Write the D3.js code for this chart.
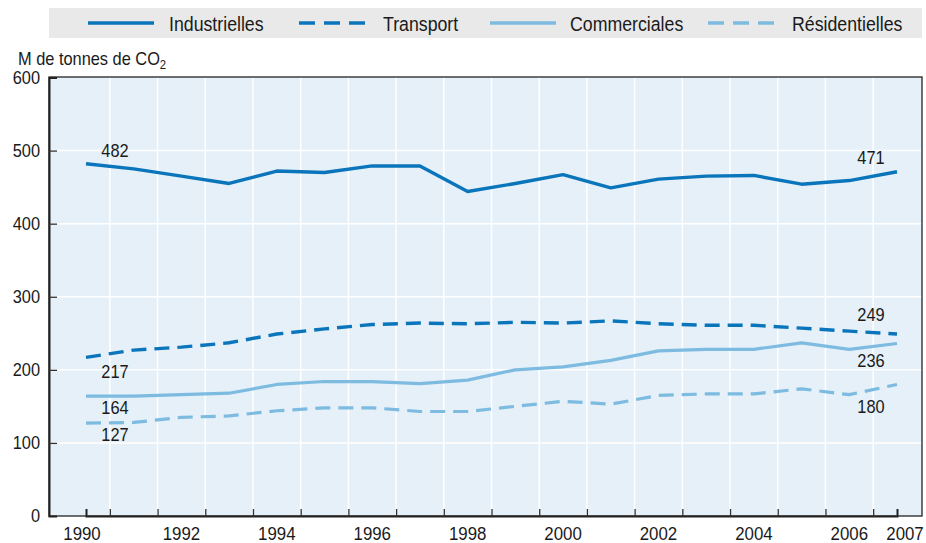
<!DOCTYPE html>
<html>
<head>
<meta charset="utf-8">
<script src="https://cdn.jsdelivr.net/npm/d3@7"></script>
<style>
  html, body { margin: 0; padding: 0; background: #fff; }
  svg text { font-family: "Liberation Sans", Arial, sans-serif; fill: #1a1a1a; }
</style>
</head>
<body>
<svg id="chart" width="926" height="543"></svg>
<script>
const years = [1990,1991,1992,1993,1994,1995,1996,1997,1998,1999,2000,2001,2002,2003,2004,2005,2006,2007];
const industrielles  = [482,475,465,455,472,470,479,479,444,455,467,449,461,465,466,454,459,471];
const transport      = [217,227,231,237,249,256,262,264,263,265,264,267,263,261,261,257,253,249];
const commerciales   = [164,164,166,168,180,184,184,181,186,200,204,213,226,228,228,237,228,236];
const residentielles = [127,128,135,137,144,148,148,143,143,150,157,153,165,167,167,174,166,180];
const seriesNames = ["Industrielles","Transport","Commerciales","Résidentielles"];
const yTicks = [0,100,200,300,400,500,600];
const xTickLabels = ["1990","1992","1994","1996","1998","2000","2002","2004","2006","2007"];
const yTitle = "M de tonnes de CO";

(function () {
const SX = 0.91; // condensed look
const dark = "#0a75bb", light = "#7dbbe1";
const styles = [
  {color: dark,  dash: null,   width: 3.4},
  {color: dark,  dash: "15,8", width: 3.4},
  {color: light, dash: null,   width: 3.2},
  {color: light, dash: "15,8", width: 3.2}
];
const seriesData = [industrielles, transport, commerciales, residentielles];
const labelOffsets = [
  [29, -7, -26, -8],
  [29, 21, -26, -13],
  [29, 18, -26, 23],
  [29, 18, -26, 29]
];

const svg = d3.select("#chart");
function addText(parent, tx, ty, str, size, anchor) {
  return parent.append("text")
    .attr("transform", `translate(${tx},${ty}) scale(${SX},1)`)
    .attr("text-anchor", anchor || "start")
    .attr("font-size", size).text(str);
}

const pl = 49, pr = 922, pt = 77, pb = 516;
const x = d3.scaleLinear().domain([1990, 2007]).range([86, 897]);
const y = d3.scaleLinear().domain([0, 600]).range([pb, 77.5]);

// legend
svg.append("rect").attr("x", pl).attr("y", 8).attr("width", pr - pl).attr("height", 30).attr("fill", "#e9e9e9");
const legendX = [88, 299, 490, 708];
const legendTextX = [169, 383, 570, 792];
seriesNames.forEach((n, i) => {
  svg.append("line").attr("x1", legendX[i]).attr("x2", legendX[i] + 66).attr("y1", 23).attr("y2", 23)
    .attr("stroke", styles[i].color).attr("stroke-width", 3.4)
    .attr("stroke-dasharray", styles[i].dash ? "16,9" : null);
  addText(svg, legendTextX[i], 30.5, n, 19.5);
});

// y title
const t = addText(svg, 18, 64.5, yTitle, 18);
t.append("tspan").attr("font-size", 12.5).attr("dy", 4).text("2");

// plot background
svg.append("rect").attr("x", pl).attr("y", pt).attr("width", pr - pl).attr("height", pb - pt).attr("fill", "#e5f0f8");

// grid
const g = svg.append("g");
yTicks.slice(1, -1).forEach(v => {
  g.append("line").attr("x1", pl).attr("x2", pr).attr("y1", y(v)).attr("y2", y(v)).attr("stroke", "#fff").attr("stroke-width", 1.5);
});
const gridYears = years.slice(0, -1).map(d => d + 0.5);
gridYears.forEach(v => {
  g.append("line").attr("x1", x(v)).attr("x2", x(v)).attr("y1", pt).attr("y2", pb).attr("stroke", "#fff").attr("stroke-width", 1.5);
});

// frame
svg.append("rect").attr("x", pl).attr("y", pt).attr("width", pr - pl).attr("height", pb - pt)
  .attr("fill", "none").attr("stroke", "#222").attr("stroke-width", 1.3);

// y axis
const yAxis = d3.axisLeft(y).tickValues(yTicks).tickSize(-8).tickPadding(9).tickFormat(d3.format("d"));
const ya = svg.append("g").attr("transform", `translate(${pl},0)`).call(yAxis);
ya.select(".domain").attr("stroke", "#222").attr("stroke-width", 2);
ya.selectAll(".tick line").attr("stroke", "#333").attr("stroke-width", 1.3);
ya.selectAll(".tick text")
  .attr("x", -9 / SX).attr("transform", `scale(${SX},1)`)
  .attr("font-size", 18).attr("fill", "#1a1a1a")
  .style("font-family", '"Liberation Sans", Arial, sans-serif');
ya.selectAll(".tick").filter(d => d === 0 || d === 600).select("line").remove();

// x axis ticks at grid positions
const xa = svg.append("g").attr("transform", `translate(0,${pb})`)
  .call(d3.axisBottom(x).tickValues(gridYears).tickSize(-7).tickFormat(""));
xa.select(".domain").attr("stroke", "#222").attr("stroke-width", 2);
xa.selectAll(".tick line").attr("stroke", "#333").attr("stroke-width", 1.3);

// x labels
const xNudge = {"1990": -4, "2007": 8};
xTickLabels.forEach(l => {
  addText(svg, x(+l) + (xNudge[l] || 0), 539.5, l, 18.5, "middle");
});

// lines
const line = d3.line().x((d, i) => x(years[i])).y(d => y(d));
seriesData.forEach((s, i) => {
  svg.append("path").datum(s).attr("d", line).attr("fill", "none")
    .attr("stroke", styles[i].color).attr("stroke-width", styles[i].width)
    .attr("stroke-dasharray", styles[i].dash).attr("stroke-linejoin", "round");
});

// value labels
seriesData.forEach((s, i) => {
  const o = labelOffsets[i];
  const n = s.length - 1;
  addText(svg, x(years[0]) + o[0], y(s[0]) + o[1], s[0], 18, "middle");
  addText(svg, x(years[n]) + o[2], y(s[n]) + o[3], s[n], 18, "middle");
});
})();
</script>
</body>
</html>
